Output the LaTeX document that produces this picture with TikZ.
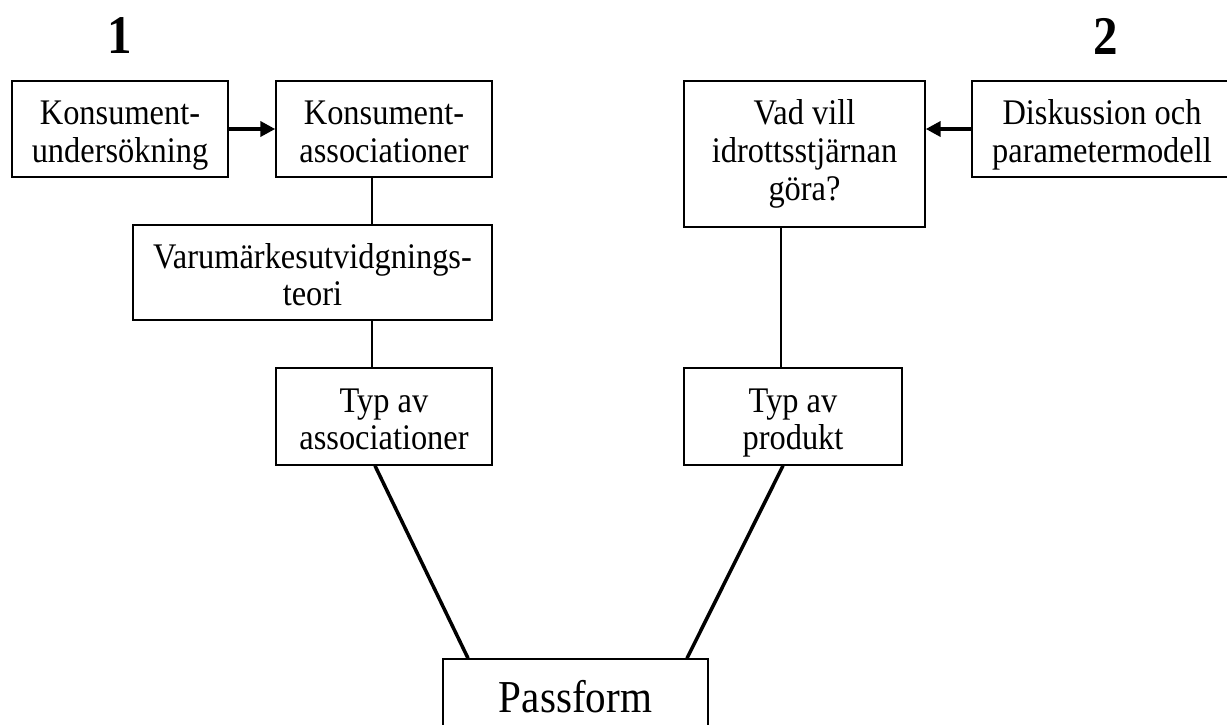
\documentclass[tikz,border=0pt]{standalone}
\usepackage{fontspec}
\setmainfont{Liberation Serif}[FakeStretch=0.9]
\usetikzlibrary{arrows.meta}
\newcommand{\topgap}{\rule{0pt}{21pt}}
\newcommand{\botgap}{\rule[-4.5pt]{0pt}{4.5pt}}

\begin{document}
\begin{tikzpicture}[x=0.02cm,y=-0.02cm,font=\fontsize{20.5}{21.5}\selectfont]
\tikzstyle{box}=[draw,line width=0.85pt,align=center,inner sep=0pt]
\tikzstyle{link}=[line width=1.1pt]
\tikzstyle{thick link}=[line width=2pt]
\tikzstyle{arrow link}=[line width=2.2pt,-{Triangle[length=0.3cm,width=0.3cm]}]
\tikzstyle{step label}=[font=\fontsize{31}{34}\selectfont\bfseries]

\useasboundingbox (0,0) rectangle (1227,724);

% the two parts
\node(one)[step label] at (120,36) {1};
\node(two)[step label] at (1106,36) {2};

% part 1
\node(undersok)[box,minimum width=4.32cm,minimum height=1.92cm] at (120,129) {\topgap Konsument-\\undersökning\botgap};
\node(assoc)[box,minimum width=4.32cm,minimum height=1.92cm] at (384,129) {\topgap Konsument-\\associationer\botgap};
\node(teori)[box,minimum width=7.18cm,minimum height=1.90cm] at (312.5,272.5) {\topgap Varumärkesutvidgnings-\\teori\botgap};
\node(typassoc)[box,minimum width=4.32cm,minimum height=1.94cm] at (384,416.5) {\topgap Typ av\\associationer\botgap};

% part 2
\node(vadvill)[box,minimum width=4.82cm,minimum height=2.92cm] at (804.5,154) {Vad vill\\idrottsstjärnan\\göra?};
\node(diskussion)[box,minimum width=5.2cm,minimum height=1.92cm] at (1102,129) {\topgap Diskussion och\\parametermodell\botgap};
\node(typprodukt)[box,minimum width=4.36cm,minimum height=1.94cm] at (793,416.5) {\topgap Typ av\\produkt\botgap};

% fit
\node(passform)[box,minimum width=5.3cm,minimum height=1.52cm,font=\fontsize{26}{30}\selectfont] at (575.5,697) {Passform};

\draw[arrow link] (undersok.east) -- (assoc.west);
\draw[arrow link] (diskussion.west) -- (diskussion.west -| vadvill.east);
\draw[link] ([xshift=-0.24cm]assoc.south) -- ([xshift=-0.24cm]assoc.south |- teori.north);
\draw[link] ([xshift=-0.24cm]assoc.south |- teori.south) -- ([xshift=-0.24cm]typassoc.north);
\draw[link] ([xshift=-0.47cm]vadvill.south) -- ([xshift=-0.47cm]vadvill.south |- typprodukt.north);
\draw[thick link] ([xshift=-0.18cm]typassoc.south) -- ([xshift=-2.15cm]passform.north);
\draw[thick link] ([xshift=-0.2cm]typprodukt.south) -- ([xshift=2.23cm]passform.north);
\end{tikzpicture}
\end{document}
